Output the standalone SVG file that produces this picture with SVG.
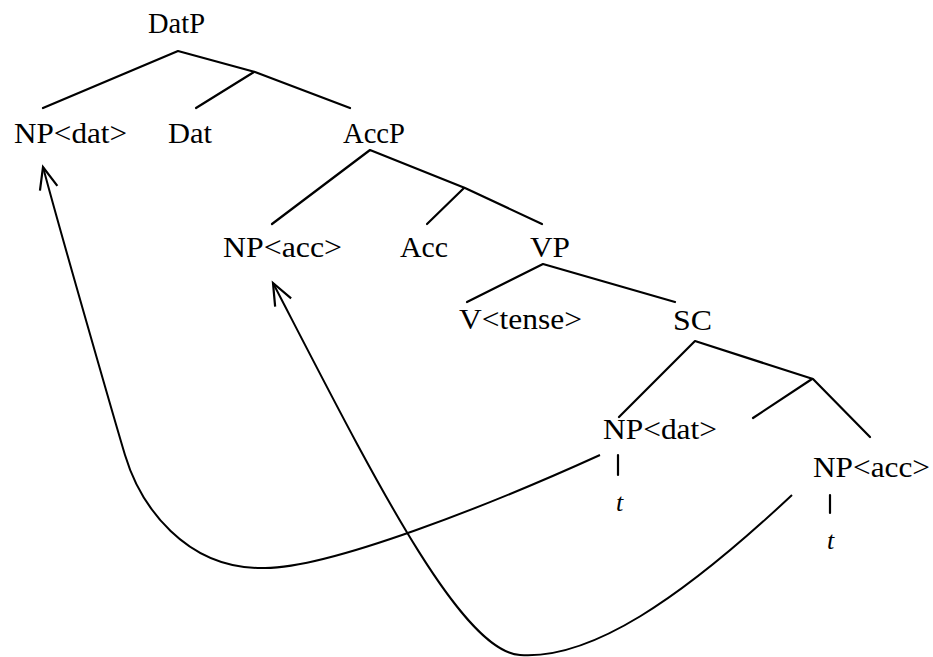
<svg xmlns="http://www.w3.org/2000/svg" width="933" height="657" viewBox="0 0 933 657">
  <style>
    .lbl { font-family: "Liberation Serif", "Times New Roman", serif; font-size: 29px; fill: #000; }
    .tr { font-family: "Liberation Serif", "Times New Roman", serif; font-size: 26px; font-style: italic; fill: #000; }
    .edge { stroke: #000; stroke-width: 2.2; fill: none; stroke-linecap: round; stroke-linejoin: round; }
    .move { stroke: #000; stroke-width: 2; fill: none; }
  </style>
  <defs>
    <marker id="arrow" markerUnits="userSpaceOnUse" viewBox="-26 -12 30 24" refX="0" refY="0" markerWidth="30" markerHeight="24" orient="auto" overflow="visible">
      <path d="M -22 -9 L 0 0 L -22 9" fill="none" stroke="#000" stroke-width="2.2"/>
    </marker>
  </defs>
  <rect width="933" height="657" fill="#fff"/>

  <g id="DatP"><text class="lbl" x="148" y="33" textLength="57" lengthAdjust="spacingAndGlyphs">DatP</text></g>
  <g id="NPdat1"><text class="lbl" x="14" y="143" textLength="113" lengthAdjust="spacingAndGlyphs">NP&lt;dat&gt;</text></g>
  <g id="Dat"><text class="lbl" x="168" y="143" textLength="44" lengthAdjust="spacingAndGlyphs">Dat</text></g>
  <g id="AccP"><text class="lbl" x="343" y="143" textLength="62" lengthAdjust="spacingAndGlyphs">AccP</text></g>
  <g id="NPacc1"><text class="lbl" x="223" y="257" textLength="119" lengthAdjust="spacingAndGlyphs">NP&lt;acc&gt;</text></g>
  <g id="Acc"><text class="lbl" x="400" y="257" textLength="48" lengthAdjust="spacingAndGlyphs">Acc</text></g>
  <g id="VP"><text class="lbl" x="530" y="257" textLength="40" lengthAdjust="spacingAndGlyphs">VP</text></g>
  <g id="Vtense"><text class="lbl" x="459" y="329" textLength="123" lengthAdjust="spacingAndGlyphs">V&lt;tense&gt;</text></g>
  <g id="SC"><text class="lbl" x="673" y="330" textLength="39" lengthAdjust="spacingAndGlyphs">SC</text></g>
  <g id="NPdat2"><text class="lbl" x="603" y="439" textLength="114" lengthAdjust="spacingAndGlyphs">NP&lt;dat&gt;</text></g>
  <g id="NPacc2"><text class="lbl" x="813" y="477" textLength="117" lengthAdjust="spacingAndGlyphs">NP&lt;acc&gt;</text></g>
  <g id="t1"><text class="tr" x="616" y="511">t</text></g>
  <g id="t2"><text class="tr" x="827" y="549">t</text></g>

  <g id="connectors">
    <!-- DatP -->
    <path class="edge" d="M 43 108 L 178 51 L 255 72 L 350 108"/>
    <path class="edge" d="M 254 72 L 196 108"/>
    <!-- AccP -->
    <path class="edge" d="M 272 224 L 370 150 L 465 188 L 542 224"/>
    <path class="edge" d="M 464 188 L 427 224"/>
    <!-- VP -->
    <path class="edge" d="M 467 302 L 543 264 L 675 302"/>
    <!-- SC -->
    <path class="edge" d="M 619 417 L 695 341 L 813 379 L 870 437"/>
    <path class="edge" d="M 812 379 L 753 418"/>
    <!-- trace bars -->
    <path class="edge" d="M 618 455 L 618 475"/>
    <path class="edge" d="M 830 495 L 830 513"/>
    <!-- movement arrows -->
    <path class="move" d="M 600 455 C 490 505, 330 568, 265 568 C 185 570, 140 505, 125 455 C 116 425, 60 231, 43 167" marker-end="url(#arrow)"/>
    <path class="move" d="M 792 495 C 680 600, 590 660, 520 655 C 460 652, 370 470, 273 283" marker-end="url(#arrow)"/>
  </g>
</svg>
